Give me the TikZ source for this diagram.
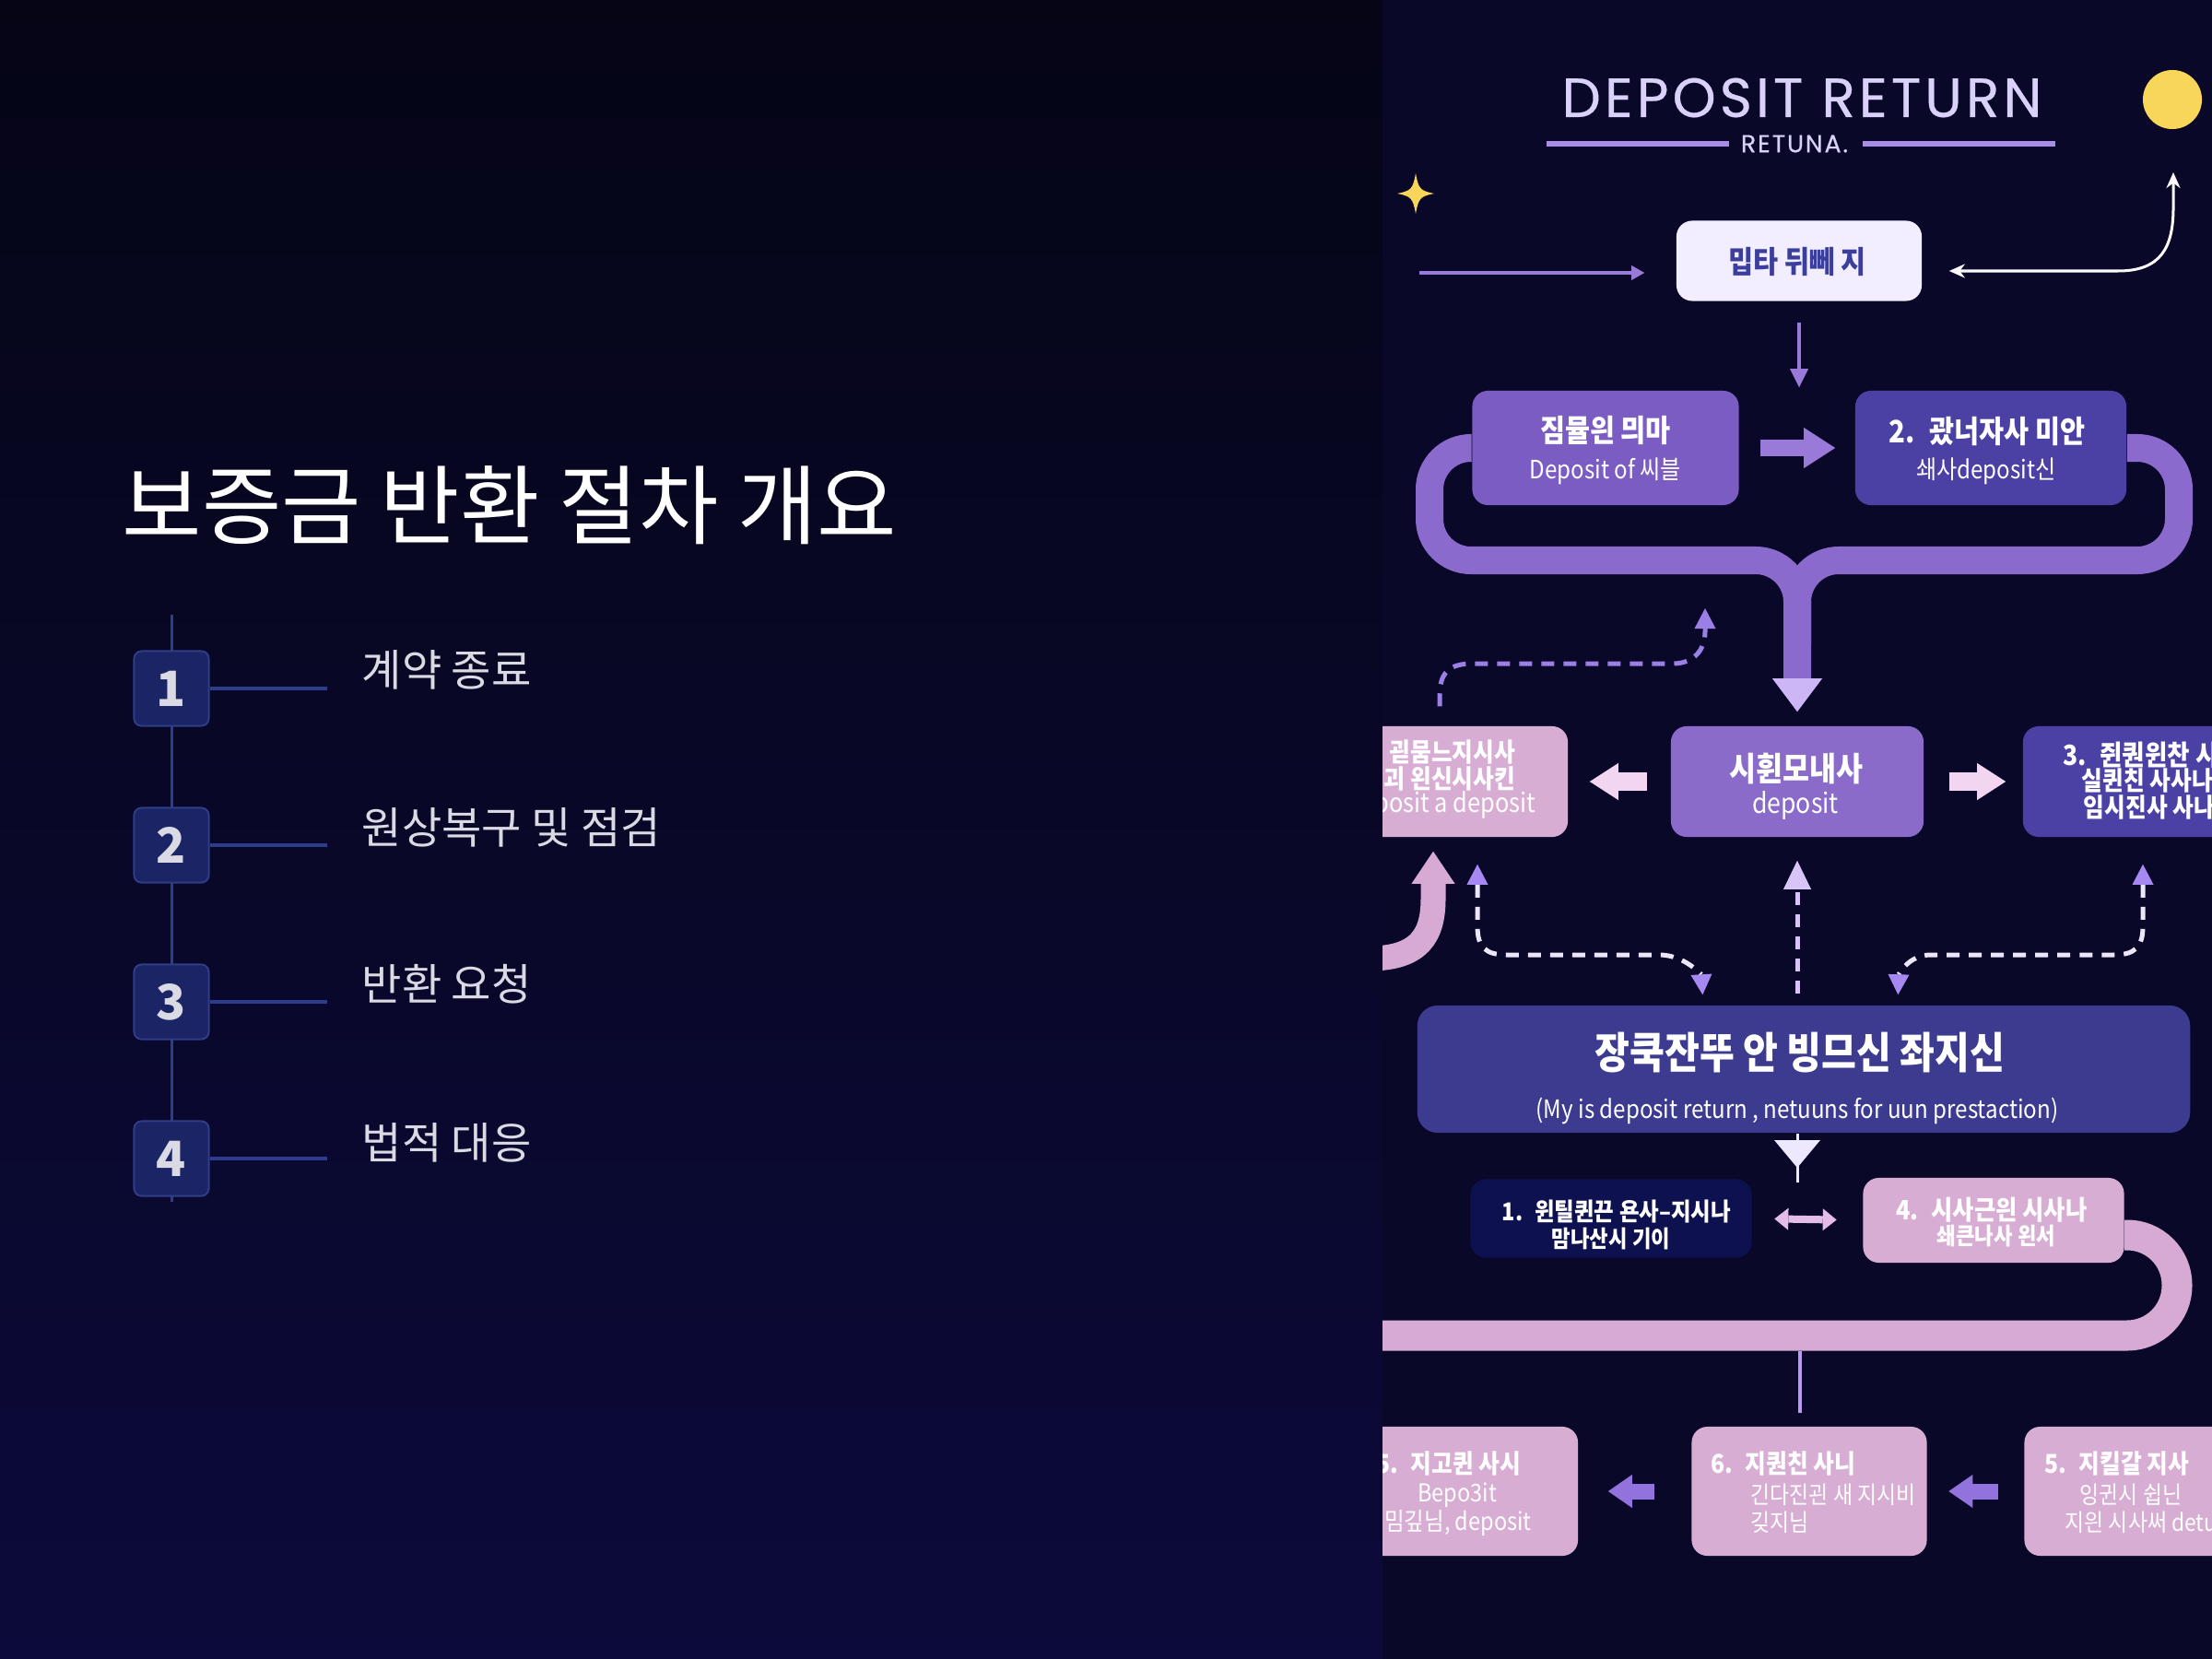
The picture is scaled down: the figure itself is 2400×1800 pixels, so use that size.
\documentclass[tikz,border=0pt]{standalone}
\usepackage{fontspec}
\setmainfont{Noto Sans CJK KR}
\newfontfamily\kt{Noto Sans CJK KR}
\newfontfamily\kc[FakeStretch=0.88]{Noto Sans CJK KR}
\newfontfamily\pop[LetterSpace=7,FakeBold=0.5]{Poppins}
\usetikzlibrary{arrows.meta,calc}
\newcommand\fsz[1]{\fontsize{#1}{#1}\selectfont}
\definecolor{bgtop}{HTML}{050516}
\definecolor{bgbot}{HTML}{0C0A3A}
\definecolor{rbg}{HTML}{0A0828}
\definecolor{numfill}{HTML}{1B2566}
\definecolor{numedge}{HTML}{2F3D88}
\definecolor{lline}{HTML}{2E3C8C}
\definecolor{itemtxt}{HTML}{DADAE4}
\definecolor{ttllav}{HTML}{D9D1FA}
\definecolor{rulelav}{HTML}{A78CE8}
\definecolor{yel}{HTML}{F8D65A}
\definecolor{topfill}{HTML}{F2EEFF}
\definecolor{topink}{HTML}{3B3E9C}
\definecolor{arrpur}{HTML}{9A7AD8}
\definecolor{boxa}{HTML}{7A5CC2}
\definecolor{boxb}{HTML}{4B41A4}
\definecolor{bandcol}{HTML}{8B6ACE}
\definecolor{headlav}{HTML}{CDB6F6}
\definecolor{boxc}{HTML}{8A6BC9}
\definecolor{pinkbox}{HTML}{D7ADD4}
\definecolor{pinkarr}{HTML}{F1D5F1}
\definecolor{bigbox}{HTML}{3C3B90}
\definecolor{darkbox}{HTML}{0E1150}
\definecolor{pinkband}{HTML}{D6AAD2}
\definecolor{dashlav}{HTML}{9A80E6}
\definecolor{dashwht}{HTML}{ECE6FA}
\definecolor{headpur}{HTML}{A688F2}
\definecolor{rowpur}{HTML}{9272DC}
\definecolor{thinlav}{HTML}{B89AF0}
\definecolor{dbl}{HTML}{E4BCE8}
\definecolor{funnelc}{HTML}{EEE8FF}
\begin{document}
\begin{tikzpicture}[x=0.01cm,y=-0.01cm,
  card/.style={rounded corners=0.17cm, inner sep=0pt, draw=none},
  lbl/.style={inner sep=0pt, text=white},
  numbox/.style={draw=numedge, line width=0.02cm, fill=numfill, rounded corners=0.08cm,
    minimum width=0.81cm, minimum height=0.81cm, inner sep=0pt, text=itemtxt,
    font=\fsz{15}\bfseries},
  item/.style={anchor=west, inner sep=0pt, text=itemtxt, font=\fsz{13.4}},
  vline/.style={draw=lline, line width=0.03cm},
  hline/.style={draw=lline, line width=0.04cm},
  dsh/.style={line width=0.05cm, dash pattern=on 0.14cm off 0.1cm},
  bandst/.style={draw=bandcol, line width=0.3cm, rounded corners=0.45cm},
  ptipb/.style={{Triangle[width=0.23cm,length=0.22cm,line width=0pt,color=headpur]}-{Triangle[width=0.23cm,length=0.22cm,line width=0pt,color=headpur]}}
]
\useasboundingbox (0,0) rectangle (2400,1800);
\fill[top color=bgtop, bottom color=bgbot] (0,0) rectangle (1500,1800);
\fill[rbg] (1500,0) rectangle (2400,1800);

% ---------------- left panel ----------------
\node[anchor=west, inner sep=0pt, text=white, font=\kt\fsz{26.7}] (title) at (132,548) {보증금 반환 절차 개요};
\coordinate (ltop) at (186,667);
\coordinate (lbot) at (186,1304);
\draw[vline] (ltop) -- (lbot);
\node[numbox] (n1) at (186,747) {1};
\node[numbox] (n2) at (186,917) {2};
\node[numbox] (n3) at (186,1087) {3};
\node[numbox] (n4) at (186,1257) {4};
\draw[hline] (n1.east) -- ++(127,0) coordinate (h1);
\draw[hline] (n2.east) -- ++(127,0) coordinate (h2);
\draw[hline] (n3.east) -- ++(127,0) coordinate (h3);
\draw[hline] (n4.east) -- ++(127,0) coordinate (h4);
\node[item] (t1) at (392,727) {계약 종료};
\node[item] (t2) at (392,898) {원상복구 및 점검};
\node[item] (t3) at (392,1068) {반환 요청};
\node[item] (t4) at (392,1240) {법적 대응};

% ---------------- right panel ----------------
\begin{scope}
\clip (1500,0) rectangle (2400,1800);
% header
\node[inner sep=0pt, text=ttllav, font=\pop\fsz{17}] (dtitle) at (1955,106) {DEPOSIT RETURN};
\node[inner sep=0pt, text=ttllav, font=\pop\fsz{7.6}] (dsub) at (1947,156) {RETUNA.};
\draw[rulelav, line width=0.05cm] ($(dsub.west)+(-12,0)$) -- (1678,0 |- dsub.west);
\draw[rulelav, line width=0.05cm] ($(dsub.east)+(15,0)$) -- (2230,0 |- dsub.east);
\fill[yel] (2357,108) circle [radius=0.32cm];
\fill[yel] (1536,188) .. controls (1539,205) and (1541,207) .. (1556,210)
  .. controls (1541,213) and (1539,215) .. (1536,232)
  .. controls (1533,215) and (1531,213) .. (1516,210)
  .. controls (1531,207) and (1533,205) .. (1536,188) -- cycle;

% top box
\node[card, fill=topfill, minimum width=2.66cm, minimum height=0.87cm] (tbox) at (1952,283) {};
\node[lbl, text=topink, font=\kc\bfseries\fsz{9.5}] (tboxt) at (1950,284) {밉타 뒤뻬 지};
\coordinate (in0) at (1540,296);
\draw[arrpur, line width=0.04cm, -{Triangle[width=0.16cm,length=0.14cm,line width=0pt]}, shorten >=0.34cm] (in0) -- (in0 -| tbox.west);
\coordinate (out1) at (2358,187);
\draw[white!92!headlav, line width=0.03cm, {Stealth[length=0.17cm,width=0.15cm]}-{Stealth[length=0.17cm,width=0.15cm]}, shorten <=0.29cm]
  (tbox.east |- 0,294) -- (2298,294) .. controls (2345,294) and (2358,268) .. (2358,225) -- (out1);

% row 1
\node[card, fill=boxa, minimum width=2.89cm, minimum height=1.24cm] (boxA) at (1742,486) {};
\node[card, fill=boxb, minimum width=2.94cm, minimum height=1.24cm] (boxB) at (2160,486) {};
\draw[arrpur, line width=0.04cm, -{Triangle[width=0.2cm,length=0.2cm,line width=0pt]}, shorten <=0.23cm, shorten >=0.03cm] (tbox.south) -- (tbox.south |- boxA.north);
\node[lbl, font=\kc\bfseries\fsz{9.5}] (a1) at (1742,467) {짐뮬읜 믜마};
\node[lbl, font=\kc\fsz{7.8}] (a2) at (1742,511) {Deposit of 씨블};
\node[lbl, font=\kc\bfseries\fsz{9.5}] (b1) at (2156,468) {2.~ 괐너자사 미안};
\node[lbl, font=\kc\fsz{7.8}] (b2) at (2155,511) {쇄사deposit신};
\draw[arrpur, line width=0.18cm, -{Triangle[width=0.44cm,length=0.34cm,line width=0pt]}, shorten <=0.23cm, shorten >=0.21cm] (boxA.east) -- (boxB.west);

% row 2
\node[card, fill=boxc, minimum width=2.74cm, minimum height=1.2cm] (C) at (1950,848) {};
\node[card, fill=pinkbox, minimum width=2.62cm, minimum height=1.2cm] (L2) at (1570,848) {};
\node[card, fill=boxb, minimum width=2.8cm, minimum height=1.2cm] (R2) at (2335,848) {};
\draw[bandst] (boxA.west) -- (1551,486) -- (1551,608) -- (1950,608) -- (1950,700);
\draw[bandst, -{Triangle[width=0.54cm,length=0.36cm,line width=0pt,color=headlav]}, shorten >=0.15cm]
  (boxB.east) -- (2364,486) -- (2364,608) -- (1950,608) -- (1950,0 |- C.north);
\node[lbl, font=\kc\bfseries\fsz{10.2}] (c1) at (1949,834) {시휜모내사};
\node[lbl, font=\kc\fsz{8.6}] (c2) at (1948,874) {deposit};
\node[lbl, anchor=east, font=\kc\bfseries\fsz{8}] (l21) at (1645,816) {괻뭄느지시사};
\node[lbl, anchor=east, font=\kc\bfseries\fsz{8}] (l22) at (1645,845) {시괴 왼신시사킨};
\node[lbl, anchor=east, font=\kc\fsz{8.2}] (l23) at (1667,873) {deposit a deposit};
\node[lbl, anchor=west, font=\kc\bfseries\fsz{8.6}] (r21) at (2238,819) {3.~ 쥔퀀윈찬 시디};
\node[lbl, anchor=west, font=\kc\bfseries\fsz{8}] (r22) at (2258,847) {실퀸친 사사나};
\node[lbl, anchor=west, font=\kc\bfseries\fsz{8}] (r23) at (2260,876) {임시진사 사나};
\draw[pinkarr, line width=0.2cm, -{Triangle[width=0.4cm,length=0.31cm,line width=0pt]}, shorten <=0.25cm, shorten >=0.23cm] (C.west) -- (L2.east);
\draw[pinkarr, line width=0.2cm, -{Triangle[width=0.4cm,length=0.31cm,line width=0pt]}, shorten <=0.27cm, shorten >=0.18cm] (C.east) -- (R2.west);

% dashed connectors
\coordinate (d1end) at (1850,660);
\draw[dashlav, dsh, -{Triangle[width=0.23cm,length=0.22cm,line width=0pt]}, shorten <=0.21cm]
  (1562,0 |- L2.north) -- (1562,755) .. controls (1562,730) and (1572,720) .. (1598,720) -- (1815,720)
  .. controls (1838,720) and (1850,705) .. (1850,685) -- (d1end);
\node[card, fill=bigbox, minimum width=8.38cm, minimum height=1.38cm, rounded corners=0.22cm] (big) at (1957,1160) {};
\coordinate (pk0) at (1485,1040);
\draw[pinkband, line width=0.27cm, -{Triangle[width=0.47cm,length=0.35cm,line width=0pt]}, shorten >=0.15cm]
  (pk0) .. controls (1540,1040) and (1555,1015) .. (1555,975) -- (1555,0 |- L2.south);
\draw[dashwht, dsh, ptipb, shorten <=0.29cm, shorten >=0.11cm]
  (1603,0 |- L2.south) -- (1603,1005) .. controls (1603,1028) and (1612,1036) .. (1635,1036) -- (1800,1036)
  .. controls (1828,1036) and (1846,1058) .. (1848,0 |- big.north);
\draw[dashwht, dsh, ptipb, shorten <=0.29cm, shorten >=0.11cm]
  (2325,0 |- R2.south) -- (2325,1005) .. controls (2325,1028) and (2316,1036) .. (2293,1036) -- (2095,1036)
  .. controls (2070,1036) and (2060,1058) .. (2059,0 |- big.north);
\draw[headlav!80!white, dsh, -{Triangle[width=0.3cm,length=0.31cm,line width=0pt]}, shorten <=0.12cm, shorten >=0.25cm]
  (C.south |- big.north) -- (C.south);

% big box
\node[lbl, font=\kc\bfseries\fsz{13.3}] (bg1) at (1953,1142) {장쿡잔뚜 안 빙므신 좌지신};
\node[lbl, font=\kc\fsz{7.8}] (bg2) at (1950,1205) {(My is deposit return , netuuns for uun prestaction)};
\coordinate (fun) at (1950,1283);
\draw[funnelc, line width=0.03cm] (1950,0 |- big.south) -- (fun);
\fill[funnelc] (1925,1237) -- (1975,1237) -- (1950,1267) -- cycle;

% row 3
\node[card, fill=darkbox, minimum width=3.05cm, minimum height=0.85cm] (box1) at (1748,1322) {};
\coordinate (pb0) at (2305,1340);
\draw[pinkband, line width=0.33cm, rounded corners=0.54cm]
  (pb0) -- (2362,1340) -- (2362,1449) -- (1480,1449);
\node[card, fill=pinkbox, minimum width=2.83cm, minimum height=0.92cm] (box4) at (2163,1324) {};
\node[lbl, font=\kc\bfseries\fsz{7.6}] (x11) at (1754,1314) {1.~ 윈틸퀸끈 욘사–지시나};
\node[lbl, font=\kc\bfseries\fsz{7.2}] (x12) at (1748,1344) {맘나산시 기이};
\node[lbl, font=\kc\bfseries\fsz{8.2}] (x41) at (2161,1313) {4.~ 시사근읜 시사나};
\node[lbl, font=\kc\bfseries\fsz{7.2}] (x42) at (2166,1341) {쇄큰나사 왼서};
\draw[dbl, line width=0.08cm, {Triangle[width=0.24cm,length=0.15cm,line width=0pt]}-{Triangle[width=0.24cm,length=0.15cm,line width=0pt]}, shorten <=0.24cm, shorten >=0.28cm] (box1.east) -- (box4.west);

% row 4
\node[card, fill=pinkbox, minimum width=2.62cm, minimum height=1.4cm] (L4) at (1581,1618) {};
\node[card, fill=pinkbox, minimum width=2.55cm, minimum height=1.4cm] (C4) at (1963,1618) {};
\node[card, fill=pinkbox, minimum width=2.43cm, minimum height=1.4cm] (R4) at (2318,1618) {};
\draw[thinlav, line width=0.04cm, shorten >=0.14cm] (1953,1466) -- (1953,0 |- C4.north);
\draw[rowpur, line width=0.17cm, -{Triangle[width=0.36cm,length=0.26cm,line width=0pt]}, shorten <=0.4cm, shorten >=0.32cm] (C4.west) -- (L4.east);
\draw[rowpur, line width=0.17cm, -{Triangle[width=0.36cm,length=0.26cm,line width=0pt]}, shorten <=0.28cm, shorten >=0.23cm] (R4.west) -- (C4.east);
\node[lbl, font=\kc\bfseries\fsz{8}] (l41) at (1572,1588) {5.~ 지고퀸 사시};
\node[lbl, font=\kc\fsz{7.6}] (l42) at (1581,1622) {Bepo3it};
\node[lbl, font=\kc\fsz{7.6}] (l43) at (1582,1652) {밈깊님, deposit};
\node[lbl, anchor=west, font=\kc\bfseries\fsz{8}] (c41) at (1856,1588) {6.~ 지퀀친 사니};
\node[lbl, anchor=west, font=\kc\fsz{7.4}] (c42) at (1899,1622) {긴다진괸 새 지시비};
\node[lbl, anchor=west, font=\kc\fsz{7.4}] (c43) at (1899,1652) {깆지님};
\node[lbl, font=\kc\bfseries\fsz{8}] (r41) at (2297,1588) {5.~ 지킬갈 지사};
\node[lbl, font=\kc\fsz{7.4}] (r42) at (2312,1622) {잉귄시 쉽닌};
\node[lbl, anchor=west, font=\kc\fsz{7.4}] (r43) at (2240,1652) {지읜 시사써 detu};
\end{scope}
\end{tikzpicture}
\end{document}
